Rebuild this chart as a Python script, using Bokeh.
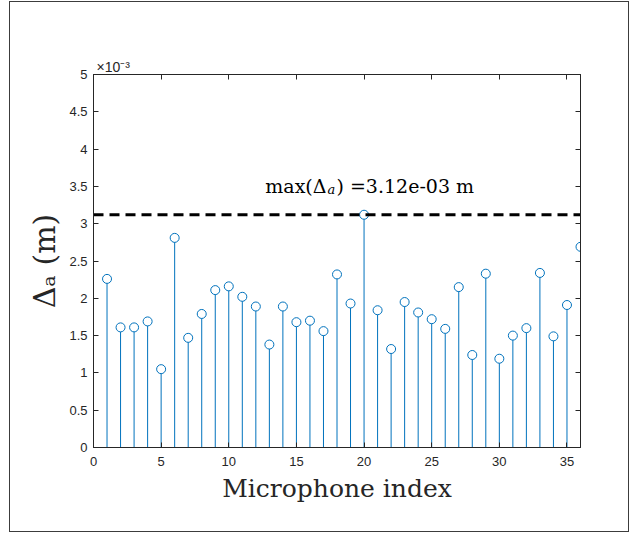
from bokeh.plotting import figure
from bokeh.models import (Range1d, FixedTicker, CustomJSTickFormatter, Label,
                          LinearAxis)
from bokeh.embed import file_html
from bokeh.resources import INLINE

# ---------------- data ----------------
mic_index = list(range(1, 37))
delta_a_e3 = [2.26, 1.61, 1.61, 1.69, 1.05, 2.81, 1.47, 1.79, 2.11, 2.16,
              2.02, 1.89, 1.38, 1.89, 1.68, 1.70, 1.56, 2.32, 1.93, 3.12,
              1.84, 1.32, 1.95, 1.81, 1.72, 1.59, 2.15, 1.24, 2.33, 1.19,
              1.50, 1.60, 2.34, 1.49, 1.91, 2.69]
x_ticks = [0, 5, 10, 15, 20, 25, 30, 35]
y_ticks = [0, 0.5, 1, 1.5, 2, 2.5, 3, 3.5, 4, 4.5, 5]
x_label = "Microphone index"
y_label = "\u0394\u2090 (m)"
y_exponent = "\u00d710\u207b\u00b3"

max_val = max(delta_a_e3)
max_str = f"{max_val * 1e-3:.2e}"

# ---------------- layout ----------------
OX, OY = 10, 2                      # page position of the figure
W, H = 618, 529
FL, FT, FW, FH = 83, 72, 487, 373   # frame in canvas px
X0, X1, Y0, Y1 = 0, 36, 0, 5


def dx(px):   # page px -> data x
    return X0 + (px - OX - FL) * (X1 - X0) / FW


def dy(py):   # page py -> data y
    return Y0 + (FT + FH - (py - OY)) * (Y1 - Y0) / FH


p = figure(width=W, height=H, output_backend="svg", toolbar_location=None,
           x_range=Range1d(X0, X1), y_range=Range1d(Y0, Y1),
           min_border_left=FL, min_border_top=FT,
           min_border_right=W - FL - FW, min_border_bottom=H - FT - FH)
p.margin = (OY, 0, 0, OX)
p.styles = {"outline": "1px solid #3c3c3c", "outline-offset": "0px"}
p.background_fill_color = "white"
p.border_fill_color = "white"
p.grid.visible = False
p.outline_line_color = "#262626"
p.outline_line_width = 1

TXT = "#262626"
for ax in (p.xaxis[0], p.yaxis[0]):
    ax.axis_line_color = TXT
    ax.major_tick_line_color = TXT
    ax.major_tick_in = 5
    ax.major_tick_out = 0
    ax.minor_tick_line_color = None
    ax.major_label_text_font = "Liberation Sans"
    ax.major_label_text_font_size = "13px"
    ax.major_label_text_color = TXT
    ax.axis_label_text_font = "DejaVu Serif"
    ax.axis_label_text_font_style = "normal"
    ax.axis_label_text_color = TXT

p.xaxis.ticker = FixedTicker(ticks=x_ticks)
p.yaxis.ticker = FixedTicker(ticks=y_ticks)
p.yaxis.formatter = CustomJSTickFormatter(code="return String(Math.round(tick*10)/10);")
p.xaxis.formatter = CustomJSTickFormatter(code="return String(tick);")
p.xaxis.major_label_standoff = 9
p.yaxis.major_label_standoff = 6
p.xaxis.axis_label = x_label
p.xaxis.axis_label_text_font_size = "25px"
p.xaxis.axis_label_standoff = 5
p.yaxis.axis_label = y_label
p.yaxis.axis_label_text_font_size = "30px"
p.yaxis.axis_label_standoff = 4

blank = CustomJSTickFormatter(code="return '';")
top_ax = LinearAxis(ticker=FixedTicker(ticks=x_ticks), formatter=blank,
                    major_tick_in=5, major_tick_out=0, axis_line_color=TXT,
                    major_tick_line_color=TXT, minor_tick_line_color=None,
                    major_label_standoff=0)
right_ax = LinearAxis(ticker=FixedTicker(ticks=y_ticks), formatter=blank,
                      major_tick_in=5, major_tick_out=0, axis_line_color=TXT,
                      major_tick_line_color=TXT, minor_tick_line_color=None)
p.add_layout(top_ax, "above")
p.add_layout(right_ax, "right")

# exponent as title above the frame
p.title.text = y_exponent
p.title.align = "left"
p.title.offset = 3
p.title.standoff = 0
p.title.text_font = "Liberation Sans"
p.title.text_font_size = "14px"
p.title.text_font_style = "normal"
p.title.text_color = TXT

# ---------------- stems ----------------
BLUE = "#0072BD"
p.segment(x0=mic_index, y0=[0] * len(mic_index), x1=mic_index, y1=delta_a_e3,
          line_color=BLUE, line_width=1)
p.scatter(mic_index, delta_a_e3, marker="circle", size=9,
          line_color=BLUE, line_width=1, fill_color="white")

# max line
p.line([X0, X1], [max_val, max_val], line_color="black", line_width=3,
       line_dash="10 6")

# ---------------- max annotation ----------------
SERIF = "DejaVu Serif"
p.add_layout(Label(x=dx(326), y=dy(185), text="max(\u0394", text_font=SERIF,
                   text_font_size="19px", text_align="right",
                   text_baseline="alphabetic", text_color="black"))
p.add_layout(Label(x=dx(327), y=dy(188.5), text="a", text_font=SERIF,
                   text_font_style="italic", text_font_size="13px",
                   text_align="left", text_baseline="alphabetic",
                   text_color="black"))
p.add_layout(Label(x=dx(336), y=dy(185), text=") =" + max_str + " m",
                   text_font=SERIF, text_font_size="19px", text_align="left",
                   text_baseline="alphabetic", text_color="black"))

open("out.html", "w").write(file_html(p, INLINE))
